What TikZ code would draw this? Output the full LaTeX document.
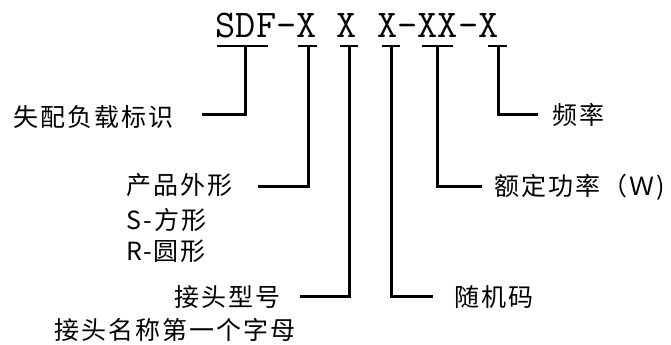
\documentclass[tikz,border=0pt]{standalone}
\usepackage{fontspec}
\newfontfamily\cjk[LetterSpace=8]{Noto Sans CJK SC}
\begin{document}
\begin{tikzpicture}[x=0.75pt,y=-0.75pt,
  lbl/.style={anchor=west,inner sep=0pt,font=\cjk\fontsize{18.75pt}{24pt}\selectfont},
  stem/.style={line width=2.25pt,line join=miter,line cap=butt},
  bar/.style={line width=1.9pt,line cap=butt}]
\useasboundingbox (0,0) rectangle (671,345);
\fill[white] (0,0) rectangle (671,345);
% title
\node[anchor=base west,inner sep=0pt] (title) at (215.5,38)
  {\ttfamily\fontsize{29.4pt}{30pt}\selectfont SDF-X X X-XX-X};
% labels
\node[lbl] (l1) at (13,117) {失配负载标识};
\node[lbl] (l2) at (126,185) {产品外形};
\node[lbl] (l2b) at (126,220) {S-方形};
\node[lbl] (l2c) at (126,251) {R-圆形};
\node[lbl] (l3) at (174,297) {接头型号};
\node[lbl] (l3b) at (54,330) {接头名称第一个字母};
\node[lbl] (l4) at (454,297) {随机码};
\node[lbl] (l5) at (494,187) {额定功率（Ｗ)};
\node[lbl] (l6) at (552,115) {频率};
% coordinates
\coordinate (b1l) at (217,46); \coordinate (b1r) at (268,46);
\coordinate (t1) at (245,46); \coordinate (c1) at (245,115); \coordinate (a1) at (202,115);
\coordinate (b2l) at (298,46); \coordinate (b2r) at (317,46);
\coordinate (t2) at (308,46); \coordinate (c2) at (308,187); \coordinate (a2) at (258,187);
\coordinate (b3l) at (340,46); \coordinate (b3r) at (358,46);
\coordinate (t3) at (349,46); \coordinate (c3) at (349,297); \coordinate (a3) at (300,297);
\coordinate (b4l) at (382,46); \coordinate (b4r) at (400,46);
\coordinate (t4) at (391,46); \coordinate (c4) at (391,297); \coordinate (a4) at (433,297);
\coordinate (b5l) at (422,46); \coordinate (b5r) at (453,46);
\coordinate (t5) at (437,46); \coordinate (c5) at (437,187); \coordinate (a5) at (482,187);
\coordinate (b6l) at (488,46); \coordinate (b6r) at (507,46);
\coordinate (t6) at (498,46); \coordinate (c6) at (498,115); \coordinate (a6) at (538,115);
% bars
\foreach \i in {1,...,6} {\draw[bar] (b\i l) -- (b\i r);}
% stems
\foreach \i in {1,...,6} {\draw[stem] (t\i) -- (c\i) -- (a\i);}
\end{tikzpicture}
\end{document}
